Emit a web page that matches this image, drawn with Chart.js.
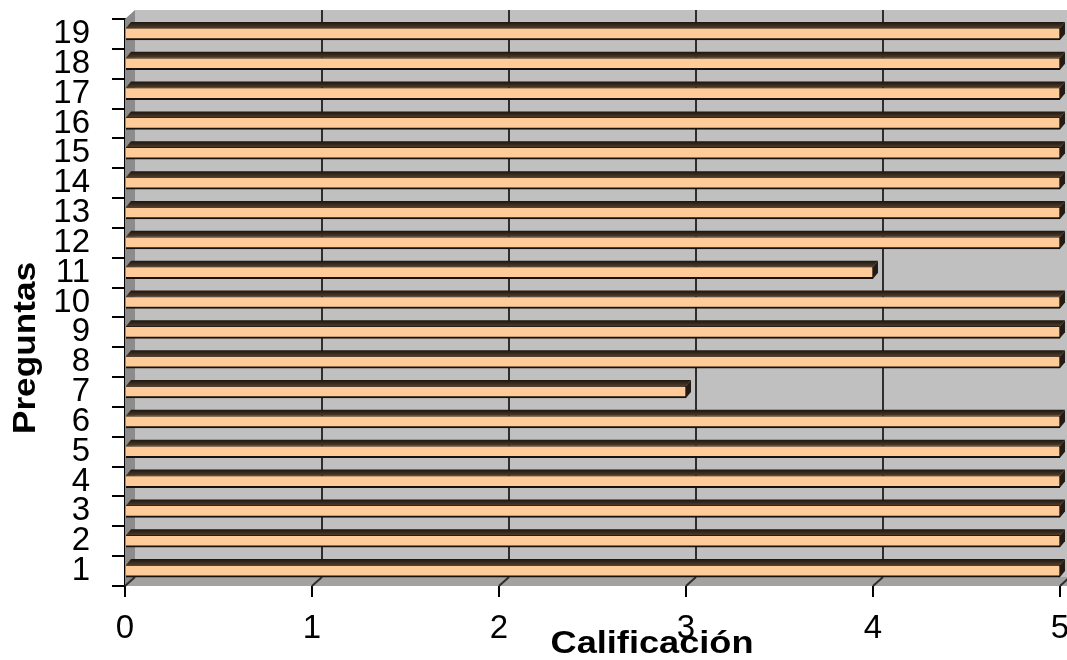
<!DOCTYPE html>
<html>
<head>
<meta charset="utf-8">
<script src="https://cdn.jsdelivr.net/npm/chart.js@4.4.1/dist/chart.umd.min.js"></script>
<style>
  html, body { margin: 0; padding: 0; background: #ffffff; }
  #wrap { width: 1067px; height: 660px; position: relative; }
</style>
</head>
<body>
<div id="wrap"><canvas id="chart"></canvas></div>
<script>
// Questions on the vertical axis, score on the horizontal axis
const preguntas = ['1','2','3','4','5','6','7','8','9','10','11','12','13','14','15','16','17','18','19'];
const calificaciones = [5, 5, 5, 5, 5, 5, 3, 5, 5, 5, 4, 5, 5, 5, 5, 5, 5, 5, 5];
const xTicks = [0, 1, 2, 3, 4, 5];
const tituloX = 'Calificación';
const tituloY = 'Preguntas';

// Depth of the walls and of the bars
const WALL_DX = 10, WALL_DY = 9;
const BAR_DX = 5, BAR_DY = 6;

const fontFamily = '"Liberation Sans", Arial, sans-serif';

const walls3d = {
  id: 'walls3d',
  beforeDatasetsDraw(chart) {
    const { ctx, chartArea: a, scales: { x } } = chart;
    ctx.save();
    // back wall
    ctx.fillStyle = '#c0c0c0';
    ctx.fillRect(a.left + WALL_DX, a.top - WALL_DY, a.right - a.left + 20, a.bottom - a.top);
    // side wall
    ctx.fillStyle = '#8c8c8c';
    ctx.beginPath();
    ctx.moveTo(a.left, a.top);
    ctx.lineTo(a.left + WALL_DX, a.top - WALL_DY);
    ctx.lineTo(a.left + WALL_DX, a.bottom - WALL_DY);
    ctx.lineTo(a.left, a.bottom);
    ctx.closePath();
    ctx.fill();
    // floor
    ctx.fillStyle = '#a2a2a2';
    ctx.beginPath();
    ctx.moveTo(a.left, a.bottom);
    ctx.lineTo(a.left + WALL_DX, a.bottom - WALL_DY);
    ctx.lineTo(a.right + WALL_DX + 20, a.bottom - WALL_DY);
    ctx.lineTo(a.right + 20, a.bottom);
    ctx.closePath();
    ctx.fill();
    // gridlines on the back wall and across the floor
    ctx.strokeStyle = '#2e2e2e';
    ctx.lineWidth = 2;
    xTicks.forEach(v => {
      const px = x.getPixelForValue(v);
      if (v > 0) {
        ctx.beginPath();
        ctx.moveTo(px + WALL_DX, a.top - WALL_DY);
        ctx.lineTo(px + WALL_DX, a.bottom - WALL_DY);
        ctx.stroke();
      }
      ctx.beginPath();
      ctx.moveTo(px + WALL_DX, a.bottom - WALL_DY);
      ctx.lineTo(px, a.bottom);
      ctx.stroke();
    });
    ctx.restore();
  },
  afterDatasetsDraw(chart) {
    const { ctx } = chart;
    const meta = chart.getDatasetMeta(0);
    ctx.save();
    meta.data.forEach(bar => {
      const p = bar.getProps(['x', 'y', 'base', 'height'], true);
      const top = p.y - p.height / 2;
      const bottom = p.y + p.height / 2;
      // top face
      const g = ctx.createLinearGradient(0, top - BAR_DY, 0, top);
      g.addColorStop(0, '#1e160e');
      g.addColorStop(1, '#4e3c2b');
      ctx.fillStyle = g;
      ctx.beginPath();
      ctx.moveTo(p.base, top);
      ctx.lineTo(p.base + BAR_DX, top - BAR_DY);
      ctx.lineTo(p.x + BAR_DX, top - BAR_DY);
      ctx.lineTo(p.x, top);
      ctx.closePath();
      ctx.fill();
      // end face
      ctx.fillStyle = '#241c14';
      ctx.beginPath();
      ctx.moveTo(p.x, top);
      ctx.lineTo(p.x + BAR_DX, top - BAR_DY);
      ctx.lineTo(p.x + BAR_DX, bottom - BAR_DY);
      ctx.lineTo(p.x, bottom);
      ctx.closePath();
      ctx.fill();
    });
    ctx.restore();
  }
};

// Axis titles, set slightly wide as in the original export
const axisTitles = {
  id: 'axisTitles',
  afterDraw(chart) {
    const { ctx } = chart;
    ctx.save();
    ctx.fillStyle = '#000000';
    ctx.font = 'bold 32px ' + fontFamily;
    ctx.textAlign = 'center';
    ctx.textBaseline = 'alphabetic';
    // horizontal title
    ctx.save();
    ctx.translate(652, 653);
    ctx.scale(1.13, 1);
    ctx.fillText(tituloX, 0, 0);
    ctx.restore();
    // vertical title
    ctx.save();
    ctx.translate(35, 348);
    ctx.rotate(-Math.PI / 2);
    ctx.scale(1.1, 1);
    ctx.fillText(tituloY, 0, 0);
    ctx.restore();
    ctx.restore();
  }
};

new Chart(document.getElementById('chart'), {
  type: 'bar',
  data: {
    labels: preguntas,
    datasets: [{
      data: calificaciones,
      backgroundColor: '#ffcc99',
      borderColor: '#17120d',
      borderWidth: { top: 1, bottom: 2, left: 0, right: 1 },
      borderSkipped: false,
      barThickness: 12
    }]
  },
  options: {
    indexAxis: 'y',
    responsive: true,
    maintainAspectRatio: false,
    animation: false,
    layout: { padding: { top: 19, right: 7, left: 0, bottom: 0 } },
    plugins: {
      legend: { display: false },
      tooltip: { enabled: false }
    },
    scales: {
      x: {
        type: 'linear',
        min: 0,
        max: 5,
        afterBuildTicks(scale) { scale.ticks = xTicks.map(v => ({ value: v })); },
        afterFit(scale) { scale.height = 74; scale.paddingRight = 0; scale.paddingLeft = 0; },
        grid: { drawOnChartArea: false, drawTicks: true, tickLength: 11, color: '#000000', lineWidth: 2 },
        border: { display: false },
        ticks: { color: '#000000', padding: 12, font: { family: fontFamily, size: 33 } },
        title: { display: false }
      },
      y: {
        type: 'category',
        reverse: true,
        offset: true,
        afterFit(scale) { scale.width = 125; scale.paddingTop = 0; scale.paddingBottom = 0; },
        grid: { offset: true, drawOnChartArea: false, drawTicks: true, tickLength: 13, color: '#000000', lineWidth: 2 },
        border: { display: true, color: '#000000', width: 2 },
        ticks: { color: '#000000', padding: 22, autoSkip: false, font: { family: fontFamily, size: 33 } },
        title: { display: false }
      }
    }
  },
  plugins: [walls3d, axisTitles]
});
</script>
</body>
</html>
